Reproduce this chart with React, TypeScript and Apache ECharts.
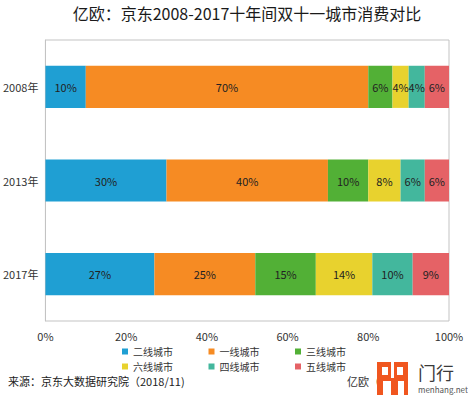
import React, { useEffect, useRef } from "react";
import * as echarts from "echarts";

const years = ["2008年", "2013年", "2017年"];
const seriesNames = ["二线城市", "一线城市", "三线城市", "六线城市", "四线城市", "五线城市"];
const tier2 = [10, 30, 27];
const tier1 = [70, 40, 25];
const tier3 = [6, 10, 15];
const tier6 = [4, 8, 14];
const tier4 = [4, 6, 10];
const tier5 = [6, 6, 9];
const xTicks = [0, 20, 40, 60, 80, 100];
const colors = ["#1f9fd3", "#f68b23", "#52b036", "#e8d22e", "#43b79d", "#e56266"];

const FONT = "'Noto Sans CJK SC', 'Noto Sans', sans-serif";

export default function App() {
  const ref = useRef<HTMLDivElement>(null);
  useEffect(() => {
    if (!ref.current) return;
    const chart = echarts.init(ref.current, undefined, { renderer: "svg" });
    const values = [tier2, tier1, tier3, tier6, tier4, tier5];
    const legendBase = {
      left: 122,
      padding: 0,
      itemWidth: 6,
      itemHeight: 6,
      itemGap: 35.5,
      icon: "rect",
      textStyle: {
        fontSize: 10,
        lineHeight: 10,
        height: 10,
        color: "#333",
        fontFamily: FONT,
        padding: [0, 0, 0, 0],
      },
    };
    chart.setOption({
      animation: false,
      textStyle: { fontFamily: FONT },
      grid: {
        left: 45,
        top: 40,
        right: 19,
        bottom: 76,
        show: true,
        borderColor: "#c3c3c3",
        borderWidth: 1,
      },
      legend: [
        { ...legendBase, top: 346.5, data: seriesNames.slice(0, 3) },
        { ...legendBase, top: 361.5, data: seriesNames.slice(3, 6) },
      ],
      xAxis: {
        type: "value",
        min: xTicks[0],
        max: xTicks[xTicks.length - 1],
        interval: 20,
        axisLine: { show: false },
        axisTick: { show: false },
        splitLine: { show: false },
        axisLabel: { formatter: "{value}%", fontSize: 11, color: "#333", margin: 9 },
      },
      yAxis: {
        type: "category",
        data: years,
        inverse: true,
        axisLine: { show: true, lineStyle: { color: "#c3c3c3" } },
        axisTick: { show: false },
        axisLabel: { fontSize: 11, color: "#333", margin: 7 },
      },
      series: seriesNames.map((name, i) => ({
        name,
        type: "bar",
        stack: "total",
        barWidth: "45%",
        data: values[i],
        itemStyle: { color: colors[i] },
        label: {
          show: true,
          position: "inside",
          formatter: "{c}%",
          color: "#222",
          fontSize: 11,
        },
      })),
      graphic: [
        {
          type: "text",
          x: 247,
          y: 13,
          style: {
            text: "亿欧：京东2008-2017十年间双十一城市消费对比",
            font: `16px ${FONT}`,
            fill: "#1a1a1a",
            textAlign: "center",
            textVerticalAlign: "middle",
          },
        },
        {
          type: "text",
          x: 8,
          y: 381,
          style: {
            text: "来源：京东大数据研究院（2018/11)",
            font: `11px ${FONT}`,
            fill: "#222",
            textVerticalAlign: "middle",
          },
        },
        {
          type: "text",
          x: 347,
          y: 381,
          style: {
            text: "亿欧（",
            font: `11px ${FONT}`,
            fill: "#333",
            textVerticalAlign: "middle",
          },
        },
        {
          type: "rect",
          shape: { x: 377, y: 362, width: 31, height: 33 },
          style: { fill: "#f0561f" },
        },
        {
          type: "rect",
          shape: { x: 382, y: 367, width: 6, height: 8 },
          style: { fill: "#fff" },
        },
        {
          type: "rect",
          shape: { x: 397, y: 367, width: 6, height: 8 },
          style: { fill: "#fff" },
        },
        {
          type: "rect",
          shape: { x: 391, y: 362, width: 3, height: 16 },
          style: { fill: "#fff" },
        },
        {
          type: "rect",
          shape: { x: 383, y: 381, width: 8, height: 14 },
          style: { fill: "#fff" },
        },
        {
          type: "rect",
          shape: { x: 398, y: 381, width: 6, height: 14 },
          style: { fill: "#fff" },
        },
        {
          type: "text",
          x: 418,
          y: 372,
          style: {
            text: "门行",
            font: `18px ${FONT}`,
            lineHeight: 18,
            fill: "#3a3a3a",
            textVerticalAlign: "middle",
          },
        },
        {
          type: "text",
          x: 418,
          y: 389,
          style: {
            text: "menhang.net",
            font: `8px ${FONT}`,
            lineHeight: 8,
            fill: "#555",
            textVerticalAlign: "middle",
          },
        },
      ],
    });
    return () => chart.dispose();
  }, []);
  return <div ref={ref} style={{ width: 468, height: 397, position: "absolute", left: 0, top: 0 }} />;
}
